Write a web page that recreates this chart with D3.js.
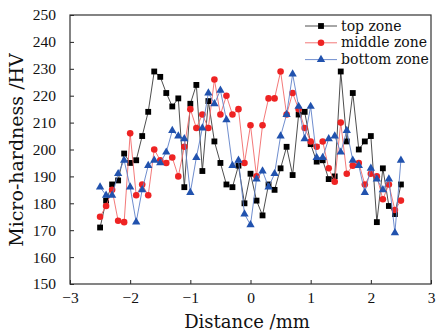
<!DOCTYPE html>
<html>
<head>
<meta charset="utf-8">
<script src="https://cdn.jsdelivr.net/npm/d3@7"></script>
<style>
  body { margin: 0; background: #fff; }
  svg { display: block; }
</style>
</head>
<body>
<div id="chart"></div>
<script>
// distance from the weld centre, mm
const distance = [
  -2.5, -2.4, -2.3, -2.2, -2.1, -2.0, -1.9, -1.8, -1.7, -1.6,
  -1.5, -1.4, -1.3, -1.2, -1.1, -1.0, -0.9, -0.8, -0.7, -0.6,
  -0.5, -0.4, -0.3, -0.2, -0.1, 0.0, 0.1, 0.2, 0.3, 0.4,
  0.5, 0.6, 0.7, 0.8, 0.9, 1.0, 1.1, 1.2, 1.3, 1.4,
  1.5, 1.6, 1.7, 1.8, 1.9, 2.0, 2.1, 2.2, 2.3, 2.4, 2.5
];

const topZone = [
  171, 181, 187, 188.5, 198.5, 195, 196, 205, 214, 229,
  227, 221, 216, 219, 186, 217, 224, 192, 218, 203,
  195, 187, 186, 194, 180, 191, 181, 175.5, 187, 185,
  193, 201, 190.5, 213, 214, 202, 195.5, 196, 189, 190,
  229, 203, 221, 200, 203, 205, 173, 193, 179, 176, 187
];

const middleZone = [
  175, 179, 185, 173.5, 173, 206, 183, 187, 183, 200,
  196, 195, 197, 190, 201, 215, 208, 213, 208, 226,
  213, 220, 213, 215, 195, 209, 190, 209, 219, 219,
  229, 213, 221, 215, 208, 203, 201, 203, 193, 188,
  210, 191, 194, 195, 187, 191, 190, 181.5, 187, 177.5, 181
];

const bottomZone = [
  186, 183, 183, 191, 196, 186, 173, 185, 194, 196,
  195, 199, 207, 205, 204, 184, 197, 208, 221, 217,
  222, 211, 194, 196, 176, 172, 189, 192, 186, 191,
  205, 213, 228, 216, 204, 216, 197, 197, 204, 205,
  199, 207, 196, 194, 184, 193, 189, 185, 189, 169, 196
];

const xTicks = [-3, -2, -1, 0, 1, 2, 3];
const yTicks = [150, 160, 170, 180, 190, 200, 210, 220, 230, 240, 250];
const seriesNames = ['top zone', 'middle zone', 'bottom zone'];

const width = 436, height = 332;
const margin = { top: 15, right: 5, bottom: 48, left: 70 };

const svg = d3.select('#chart').append('svg')
  .attr('width', width)
  .attr('height', height);

const x = d3.scaleLinear().domain([-3, 3]).range([margin.left, width - margin.right]);
const y = d3.scaleLinear().domain([150, 250]).range([height - margin.bottom, margin.top]);

const tickFont = '"Liberation Serif", serif';
const titleFont = '"DejaVu Serif", serif';

// axes, ticks pointing inward
const fmt = d => (d < 0 ? '\u2212' + Math.abs(d) : String(d));

const gx = svg.append('g')
  .attr('transform', 'translate(0,' + y(150) + ')')
  .call(d3.axisBottom(x).tickValues(xTicks).tickSizeInner(-4).tickSizeOuter(0).tickPadding(8).tickFormat(fmt));

const gy = svg.append('g')
  .attr('transform', 'translate(' + x(-3) + ',0)')
  .call(d3.axisLeft(y).tickValues(yTicks).tickSizeInner(-4).tickSizeOuter(0).tickPadding(14));

[gx, gy].forEach(g => {
  g.select('.domain').remove();
  g.selectAll('.tick line').attr('stroke', '#222').attr('stroke-width', 1);
  g.selectAll('.tick text')
    .attr('fill', '#111')
    .style('font-family', tickFont)
    .style('font-size', '15.5px');
});

svg.append('rect')
  .attr('x', x(-3))
  .attr('y', y(250))
  .attr('width', x(3) - x(-3))
  .attr('height', y(150) - y(250))
  .attr('fill', 'none')
  .attr('stroke', '#333')
  .attr('stroke-width', 1.2);

// series
const series = [
  { name: seriesNames[0], values: topZone, line: '#3a3a3a', fill: '#000', symbol: d3.symbolSquare, size: 34 },
  { name: seriesNames[1], values: middleZone, line: '#f26a6a', fill: '#ee2323', symbol: d3.symbolCircle, size: 34 },
  { name: seriesNames[2], values: bottomZone, line: '#5f80c8', fill: '#2152ae', symbol: d3.symbolTriangle, size: 30 }
];

const line = d3.line()
  .x((d, i) => x(distance[i]))
  .y(d => y(d));

series.forEach(s => {
  const g = svg.append('g');
  g.append('path')
    .datum(s.values)
    .attr('d', line)
    .attr('fill', 'none')
    .attr('stroke', s.line)
    .attr('stroke-width', 0.9);

  g.selectAll('path.pt')
    .data(s.values)
    .enter().append('path')
    .attr('class', 'pt')
    .attr('transform', (d, i) => 'translate(' + x(distance[i]) + ',' + y(d) + ')')
    .attr('d', d3.symbol().type(s.symbol).size(s.size))
    .attr('fill', s.fill);
});

// legend
const legend = svg.append('g').attr('transform', 'translate(305,26)');
series.forEach((s, i) => {
  const row = legend.append('g').attr('transform', 'translate(0,' + (i * 16.8) + ')');
  row.append('line')
    .attr('x1', 0).attr('x2', 32)
    .attr('stroke', s.line)
    .attr('stroke-width', 0.9);
  row.append('path')
    .attr('transform', 'translate(16,0)')
    .attr('d', d3.symbol().type(s.symbol).size(s.size))
    .attr('fill', s.fill);
  row.append('text')
    .attr('x', 36)
    .attr('y', 4.5)
    .style('font-family', titleFont)
    .style('font-size', '14px')
    .attr('fill', '#111')
    .text(s.name);
});

// axis titles
svg.append('text')
  .attr('x', 247)
  .attr('y', 328)
  .attr('text-anchor', 'middle')
  .style('font-family', titleFont)
  .style('font-size', '18px')
  .attr('fill', '#111')
  .text('Distance /mm');

svg.append('text')
  .attr('transform', 'translate(23,' + 150 + ') rotate(-90)')
  .attr('text-anchor', 'middle')
  .style('font-family', titleFont)
  .style('font-size', '19px')
  .attr('fill', '#111')
  .text('Micro-hardness /HV');
</script>
</body>
</html>
